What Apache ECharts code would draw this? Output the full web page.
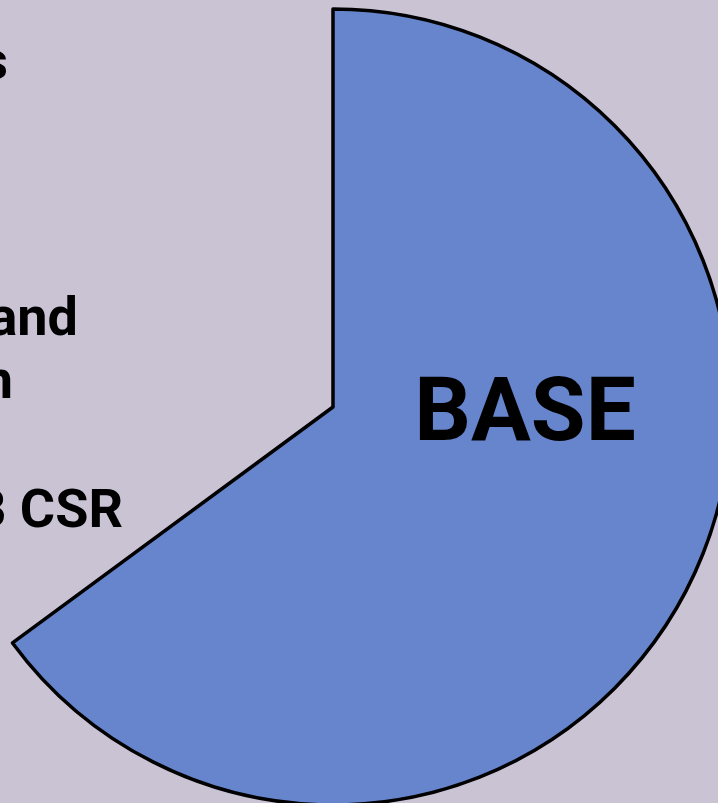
<!DOCTYPE html>
<html>
<head>
<meta charset="utf-8">
<script src="https://cdn.jsdelivr.net/npm/echarts@6/dist/echarts.min.js"></script>
<style>
    html, body { margin: 0; padding: 0; background: #c9c3d4; }
    #chart { width: 718px; height: 803px; }
</style>
</head>
<body>
<div id="chart"></div>
<script>
    // slice names and shares (only BASE is filled, the rest is left empty)
    var sliceNames = ['BASE', 'WB CSR', 'Research and\nExtension', 'Other Programs'];
    var sliceValues = [64.9, 11.5, 13.2, 10.4];
    var sliceColors = ['#6685cd', 'rgba(0,0,0,0)', 'rgba(0,0,0,0)', 'rgba(0,0,0,0)'];

    // where each label sits (x, y, align)
    var labelSpots = [
        [525, 418, 'center'],
        [123, 513, 'right'],
        [78, 353, 'right'],
        [8, 65, 'right']
    ];

    var myChart = echarts.init(document.getElementById('chart'));

    var pieData = [];
    for (let i = 0; i < sliceNames.length; i++) {
        pieData.push({
            name: sliceNames[i],
            value: sliceValues[i],
            itemStyle: {
                color: sliceColors[i],
                borderColor: i === 0 ? '#000' : 'rgba(0,0,0,0)',
                borderWidth: i === 0 ? 3.5 : 0
            },
            label: i === 0 ? { fontSize: 89 } : {}
        });
    }

    myChart.setOption({
        backgroundColor: '#c9c3d4',
        animation: false,
        series: [{
            type: 'pie',
            center: [333, 407],
            radius: [0, 398],
            startAngle: 90,
            clockwise: true,
            silent: true,
            avoidLabelOverlap: false,
            label: {
                show: true,
                position: 'inside',
                color: '#000',
                fontFamily: 'Roboto',
                fontWeight: 'bold',
                fontSize: 54,
                lineHeight: 63,
                formatter: function (p) {
                    if (p.name.indexOf('\n') >= 0) {
                        var parts = p.name.split('\n');
                        return '{a|' + parts[0] + '}\n{b|' + parts[1] + '}';
                    }
                    return p.name;
                },
                rich: {
                    a: { align: 'right', fontSize: 54, lineHeight: 63, fontWeight: 'bold', fontFamily: 'Roboto', color: '#000' },
                    b: { align: 'right', fontSize: 54, lineHeight: 63, fontWeight: 'bold', fontFamily: 'Roboto', color: '#000', padding: [0, 65, 0, 0] }
                }
            },
            labelLine: { show: false },
            labelLayout: function (params) {
                var s = labelSpots[params.dataIndex];
                return { x: s[0], y: s[1], align: s[2], verticalAlign: 'middle', hideOverlap: false };
            },
            data: pieData
        }]
    });
</script>
</body>
</html>
